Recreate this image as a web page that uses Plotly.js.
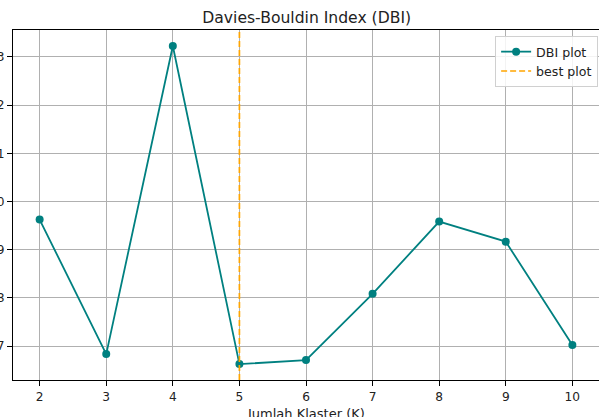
<!DOCTYPE html>
<html>
<head>
<meta charset="utf-8">
<script src="https://cdn.plot.ly/plotly-3.0.1.min.js"></script>
<style>
html,body{margin:0;padding:0;background:#fff;overflow:hidden;}
#chart{width:599px;height:417px;}
</style>
</head>
<body>
<div id="chart"></div>
<script>
const kValues = [2, 3, 4, 5, 6, 7, 8, 9, 10];
const dbiValues = [0.9625, 0.6833, 1.3229, 0.6625, 0.6708, 0.8083, 0.9583, 0.9167, 0.702];
const bestK = 5;
const yTicks = [0.7, 0.8, 0.9, 1.0, 1.1, 1.2, 1.3];
const yTickLabels = ["0.7", "0.8", "0.9", "1.0", "1.1", "1.2", "1.3"];
const xAxisLabel = "Jumlah Klaster (K)";

const font = "DejaVu Sans, sans-serif";

const traces = [
  {
    x: kValues, y: dbiValues, type: "scatter", mode: "lines+markers",
    name: "DBI plot",
    line: {color: "#008080", width: 1.8},
    marker: {color: "#008080", size: 8}
  },
  {
    x: [bestK, bestK], y: [0, 1], yaxis: "y2", type: "scatter", mode: "lines",
    name: "best plot",
    line: {color: "#FFA500", width: 1.7, dash: "6px,3px"}
  }
];

const layout = {
  width: 599, height: 417,
  margin: {l: 13, r: 0, t: 30, b: 37},
  paper_bgcolor: "#fff", plot_bgcolor: "#fff",
  font: {family: font, color: "#222", size: 12},
  title: {text: "Davies-Bouldin Index (DBI)", font: {family: font, size: 15.6, color: "#222"},
          x: 0.512, xanchor: "center", y: 0.958, yanchor: "middle"},
  showlegend: true,
  legend: {x: 0.9985, xanchor: "right", y: 0.983, yanchor: "top",
           bgcolor: "rgba(255,255,255,0.85)", bordercolor: "#d0d0d0", borderwidth: 1,
           itemwidth: 30,
           font: {family: font, size: 12.6, color: "#222"}, tracegroupgap: 0},
  xaxis: {
    range: [1.6, 10.4], tickvals: kValues, ticktext: kValues.map(String),
    showgrid: true, gridcolor: "#b0b0b0", gridwidth: 1,
    zeroline: false, showline: true, linecolor: "#000", linewidth: 1, mirror: true,
    ticks: "outside", ticklen: 5, tickcolor: "#000", tickwidth: 1,
    tickfont: {family: font, size: 12.2, color: "#222"}
  },
  yaxis: {
    range: [0.6295, 1.356], tickvals: yTicks, ticktext: yTickLabels,
    showgrid: true, gridcolor: "#b0b0b0", gridwidth: 1,
    zeroline: false, showline: true, linecolor: "#000", linewidth: 1, mirror: true,
    ticks: "outside", ticklen: 5, tickcolor: "#000", tickwidth: 1,
    tickfont: {family: font, size: 12.2, color: "#222"}
  },
  yaxis2: {range: [0, 1], overlaying: "y", visible: false, fixedrange: true},
  annotations: [{
    text: xAxisLabel, xref: "paper", yref: "paper", x: 0.5, y: -0.097,
    xanchor: "center", yanchor: "middle", showarrow: false,
    font: {family: font, size: 13, color: "#222"}
  }]
};

Plotly.newPlot("chart", traces, layout, {displayModeBar: false, staticPlot: true});
</script>
</body>
</html>
